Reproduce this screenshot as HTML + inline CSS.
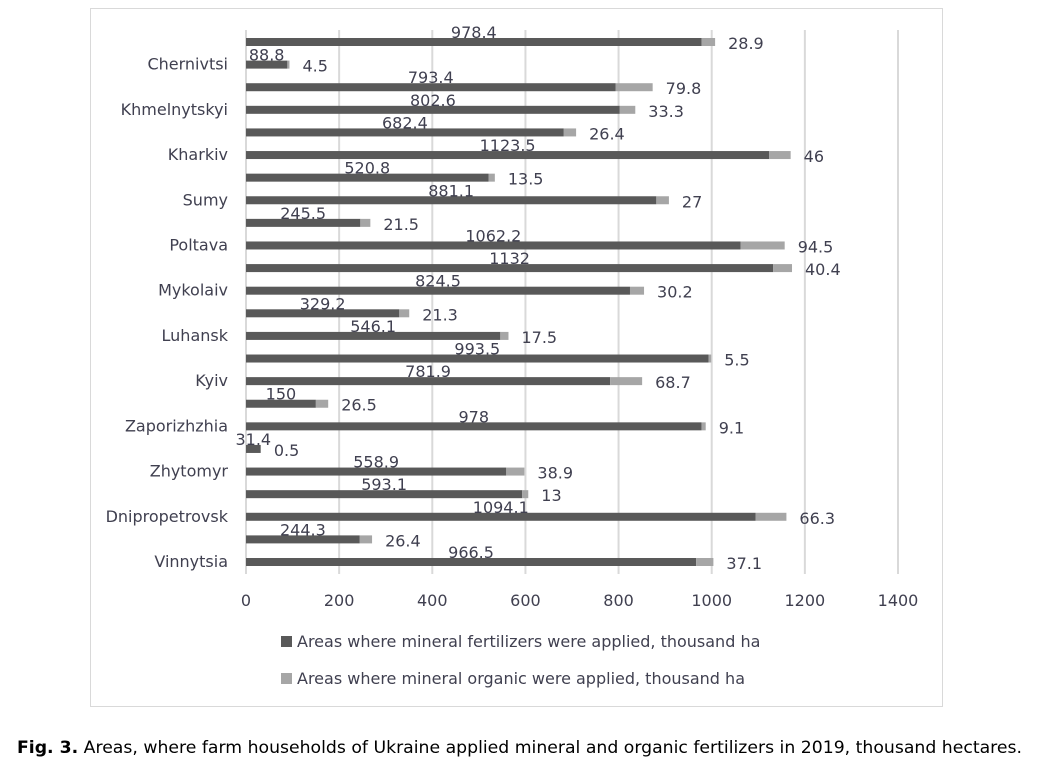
<!DOCTYPE html>
<html><head><meta charset="utf-8"><style>
body{margin:0;background:#fff;}
svg text{font-family:"DejaVu Sans","Liberation Sans",sans-serif;}
</style></head><body>
<svg id="chart" width="1039" height="761" xmlns="http://www.w3.org/2000/svg">
<rect x="90.5" y="8.5" width="852" height="698" fill="#fff" stroke="#d9d9d9"/>
<g id="grid"></g><g id="bars"></g><g id="labels"></g>
<g>
<rect x="281" y="636" width="11" height="11" fill="#595959"/>
<text x="297" y="647" font-size="16" fill="#404050">Areas where mineral fertilizers were applied, thousand ha</text>
<rect x="281" y="673" width="11" height="11" fill="#a6a6a6"/>
<text x="297" y="684" font-size="16" fill="#404050">Areas where mineral organic were applied, thousand ha</text>
</g>
<text x="17" y="753" font-size="17" fill="#000" textLength="1005" lengthAdjust="spacingAndGlyphs"><tspan font-weight="bold">Fig. 3.</tspan> Areas, where farm households of Ukraine applied mineral and organic fertilizers in 2019, thousand hectares.</text>
</svg>
<script>
const categories=["","Chernivtsi","","Khmelnytskyi","","Kharkiv","","Sumy","","Poltava","","Mykolaiv","","Luhansk","","Kyiv","","Zaporizhzhia","","Zhytomyr","","Dnipropetrovsk","","Vinnytsia"];
const mineral=[978.4,88.8,793.4,802.6,682.4,1123.5,520.8,881.1,245.5,1062.2,1132,824.5,329.2,546.1,993.5,781.9,150,978,31.4,558.9,593.1,1094.1,244.3,966.5];
const organic=[28.9,4.5,79.8,33.3,26.4,46,13.5,27,21.5,94.5,40.4,30.2,21.3,17.5,5.5,68.7,26.5,9.1,0.5,38.9,13,66.3,26.4,37.1];
const xTicks=[0,200,400,600,800,1000,1200,1400];
const NS="http://www.w3.org/2000/svg";
const x0=246,x1=898,xMax=1400,yTop=42,step=(562-42)/23,bh=8;
const xs=v=>x0+v/xMax*(x1-x0);
const ys=i=>yTop+i*step;
function mk(tag,attrs,parent){const e=document.createElementNS(NS,tag);for(const k in attrs)e.setAttribute(k,attrs[k]);document.getElementById(parent).appendChild(e);return e;}
xTicks.forEach(t=>{
 const l=mk('line',{x1:xs(t),x2:xs(t),y1:30,y2:574,stroke:'#d9d9d9','stroke-width':2},'grid');
 
 
 const tx=mk('text',{x:xs(t),y:606,'font-size':16,fill:'#404050','text-anchor':'middle'},'labels');
 tx.textContent=t;
 
 
});
mineral.forEach((m,i)=>{
 const y=ys(i);
 const a=mk('rect',{x:x0,y:y-bh/2,width:xs(m)-x0,height:bh,fill:'#595959'},'bars');
 
 
 const b=mk('rect',{x:xs(m),y:y-bh/2,width:xs(m+organic[i])-xs(m),height:bh,fill:'#a6a6a6'},'bars');
 
 
 const t1=mk('text',{x:(x0+xs(m))/2,y:y-4,'font-size':16,fill:'#404050','text-anchor':'middle'},'labels');
 t1.textContent=m;
 
 
 const t2=mk('text',{x:xs(m+organic[i])+13,y:y+7,'font-size':16,fill:'#404050'},'labels');
 t2.textContent=organic[i];
 
 
});
categories.forEach((c,k)=>{
 if(!c)return;
 const t=mk('text',{x:228,y:ys(k)+5,'font-size':16,fill:'#404050','text-anchor':'end'},'labels');
 t.textContent=c;
 
 
});
</script>
</body></html>
